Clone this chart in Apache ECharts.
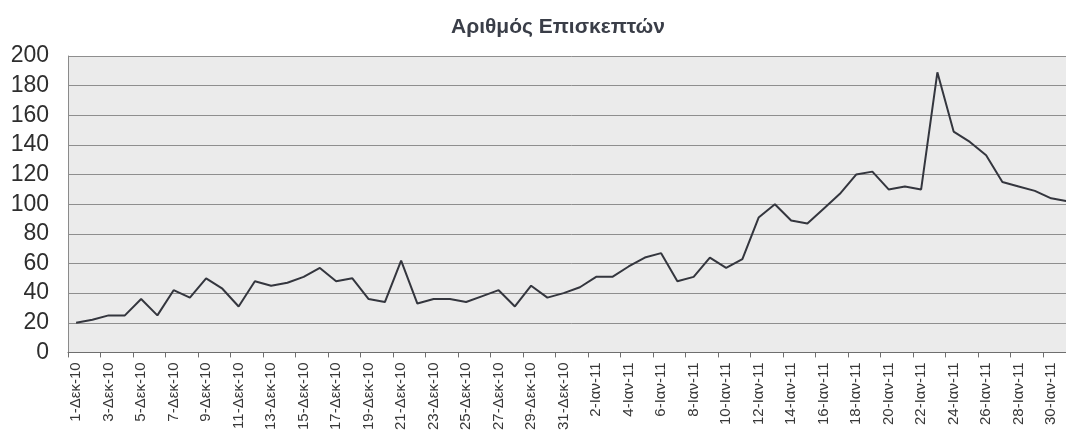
<!DOCTYPE html>
<html>
<head>
<meta charset="utf-8">
<script src="https://cdn.jsdelivr.net/npm/echarts@6/dist/echarts.min.js"></script>
<style>
html,body{margin:0;padding:0;background:#fff;overflow:hidden;width:1066px;height:433px;}
#chart{width:1076px;height:433px;}
</style>
</head>
<body>
<div id="chart"></div>
<script>
const title = 'Αριθμός Επισκεπτών';
const decDays = [];
for (let d = 1; d <= 31; d++) decDays.push(d + '-Δεκ-10');
const janDays = [];
for (let d = 1; d <= 31; d++) janDays.push(d + '-Ιαν-11');
const categories = decDays.concat(janDays);
const visitors = [
  20, 22, 25, 25, 36, 25, 42, 37, 50, 43,
  31, 48, 45, 47, 51, 57, 48, 50, 36, 34,
  62, 33, 36, 36, 34, 38, 42, 31, 45, 37,
  40, 44, 51, 51, 58, 64, 67, 48, 51, 64,
  57, 63, 91, 100, 89, 87, 97, 107, 120, 122,
  110, 112, 110, 189, 149, 142, 133, 115, 112, 109,
  104, 102
];
const yMin = 0, yMax = 200, yStep = 20;

const chart = echarts.init(document.getElementById('chart'), null, {renderer: 'canvas'});
chart.setOption({
  animation: false,
  backgroundColor: '#ffffff',
  title: {
    text: title,
    left: 553, top: 12,
    textAlign: 'center',
    textStyle: {fontFamily: 'Liberation Sans', fontWeight: 'bold', fontSize: 21, color: '#3a3e48'}
  },
  grid: {
    left: 68, top: 56, height: 300, width: 1007.5,
    show: true, backgroundColor: '#ebebeb', borderWidth: 0
  },
  xAxis: {
    type: 'category',
    data: categories,
    boundaryGap: true,
    axisLine: {show: true, lineStyle: {color: '#6e6e6e', width: 1}},
    axisTick: {show: true, interval: 1, length: 5, lineStyle: {color: '#6e6e6e'}},
    axisLabel: {
      interval: 1, rotate: 90, margin: 10,
      fontFamily: 'Liberation Sans', fontSize: 15, color: '#383838'
    },
    splitLine: {show: false}
  },
  yAxis: {
    type: 'value',
    min: yMin, max: yMax, interval: yStep,
    axisLine: {show: true, lineStyle: {color: '#8a8a8a', width: 1}},
    axisTick: {show: false},
    axisLabel: {margin: 19, fontFamily: 'Liberation Sans', fontSize: 23, color: '#2e2e2e'},
    splitLine: {show: true, lineStyle: {color: '#8e8e8e', width: 1}}
  },
  series: [{
    type: 'line',
    data: visitors,
    showSymbol: false,
    symbol: 'none',
    lineStyle: {color: '#34363e', width: 2},
    clip: true
  }]
});
</script>
</body>
</html>
